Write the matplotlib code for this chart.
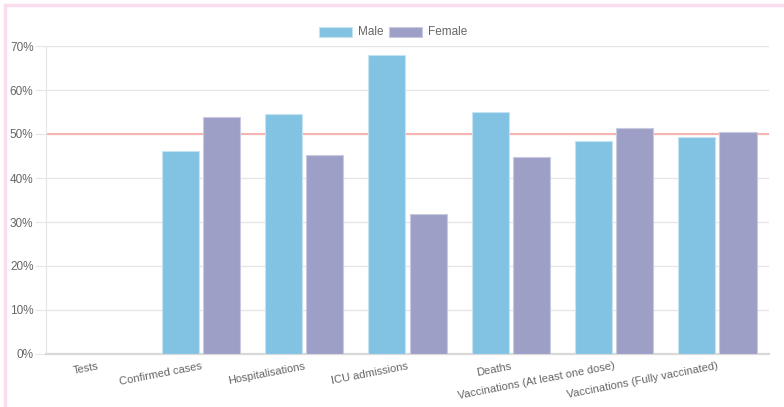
import matplotlib
matplotlib.use("Agg")
import matplotlib.pyplot as plt
from matplotlib.patches import Rectangle
import numpy as np

categories = ["Tests", "Confirmed cases", "Hospitalisations", "ICU admissions",
              "Deaths", "Vaccinations (At least one dose)", "Vaccinations (Fully vaccinated)"]
male = [np.nan, 46.1, 54.6, 68.0, 55.1, 48.5, 49.3]
female = [np.nan, 53.9, 45.3, 31.9, 44.8, 51.4, 50.5]
yticks = [0, 10, 20, 30, 40, 50, 60, 70]

MALE_C = "#82c3e3"
FEMALE_C = "#9e9fc6"
TEXT_C = "#666666"
GRID_C = "#e6e6e6"

plt.rcParams["font.family"] = ["Liberation Sans", "DejaVu Sans"]

W, H = 784, 407
fig = plt.figure(figsize=(W / 100, H / 100), dpi=100)
ax = fig.add_axes([46 / W, 1 - 354 / H, (769 - 46) / W, (354 - 46) / H])

x = np.arange(len(categories))
ax.bar(x - 0.2, male, width=0.36, color=MALE_C, edgecolor="#c5e3f2", linewidth=0.8, zorder=3)
ax.bar(x + 0.2, female, width=0.36, color=FEMALE_C, edgecolor="#c9c9e0", linewidth=0.8, zorder=3)

ax.axhline(50, color="#f5b3b3", linewidth=1.5, zorder=2)

ax.set_xlim(-0.5, len(categories) - 0.5)
ax.set_ylim(0, 70)
ax.set_yticks(yticks)
ax.set_yticklabels([f"{t}%" for t in yticks])
ax.yaxis.grid(True, color=GRID_C, linewidth=1, zorder=1)
ax.set_axisbelow(True)
ax.tick_params(axis="y", length=8, color=GRID_C, labelcolor=TEXT_C, labelsize=8.5, pad=1)

ax.set_xticks(x)
ax.set_xticklabels(categories, rotation=11, ha="right", rotation_mode="anchor")
ax.tick_params(axis="x", length=0, labelcolor=TEXT_C, labelsize=8, pad=5)

for side in ["top", "right"]:
    ax.spines[side].set_visible(False)
ax.spines["left"].set_color(GRID_C)
ax.spines["bottom"].set_color("#d9d9d9")
ax.spines["bottom"].set_linewidth(1.6)

# legend drawn in figure pixels like the original
fig.patches.append(Rectangle((319 / W, 1 - 37 / H), 33 / W, 10 / H, transform=fig.transFigure,
                             facecolor=MALE_C, edgecolor="#c5e3f2", linewidth=0.8))
fig.text(358 / W, 1 - 32 / H, "Male", color=TEXT_C, fontsize=8.5, va="center")
fig.patches.append(Rectangle((389 / W, 1 - 37 / H), 33 / W, 10 / H, transform=fig.transFigure,
                             facecolor=FEMALE_C, edgecolor="#c9c9e0", linewidth=0.8))
fig.text(428 / W, 1 - 32 / H, "Female", color=TEXT_C, fontsize=8.5, va="center")

# pink frame around the card
fig.patches.append(Rectangle((5 / W, -0.05), 1.2, 1 - 5 / H + 0.05, transform=fig.transFigure,
                             facecolor="none", edgecolor="#fadcef", linewidth=2.5))

fig.savefig("out.png", dpi=100)
plt.close(fig)
